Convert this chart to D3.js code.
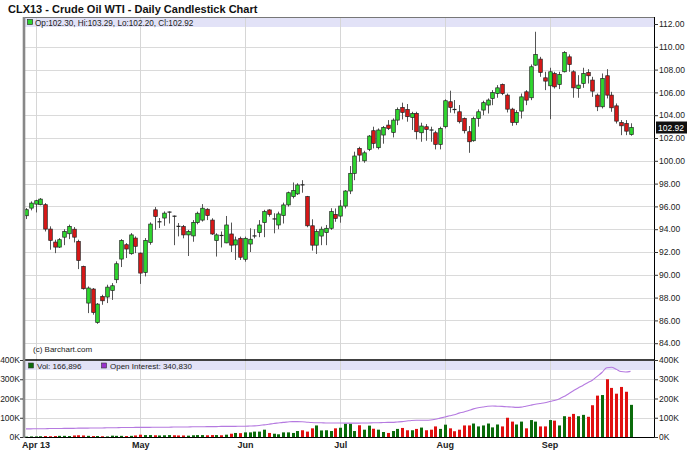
<!DOCTYPE html>
<html><head><meta charset="utf-8">
<script src="https://cdn.jsdelivr.net/npm/d3@7"></script>
<style>body{margin:0;background:#fff;} svg{display:block;font-family:"Liberation Sans",Arial,sans-serif;}</style>
</head><body><svg id="c" width="688" height="457"></svg>
<script>
// ---- DATA ----
const open = [95.18,95.85,96.2,96.15,96.15,94.01,92.87,92.43,93.3,93.6,
94.0,92.93,90.74,87.52,88.75,85.82,88.1,88.05,88.63,89.57,
91.38,92.64,91.85,93.22,91.9,90.2,92.84,95.7,94.6,94.98,
95.48,95.18,94.28,94.23,93.5,93.41,94.58,94.8,95.75,94.8,
93.0,93.48,92.8,93.58,92.62,93.2,91.36,92.7,93.38,93.7,
94.58,95.69,94.88,94.37,95.2,96.13,96.86,97.1,97.92,96.86,
94.3,92.6,93.4,93.7,94.08,95.3,95.15,96.03,97.35,98.9,
101.09,100.0,101.0,102.64,101.15,102.26,103.13,102.49,103.57,104.68,
104.51,103.8,104.16,102.46,102.99,102.72,102.46,101.44,102.99,105.18,
104.52,104.3,103.72,102.55,101.76,103.72,104.45,104.89,105.47,105.9,
106.7,105.76,104.53,103.36,104.36,106.05,105.53,108.39,108.92,107.28,
106.58,107.66,106.7,107.81,109.12,107.81,106.34,106.78,107.75,107.08,
105.76,104.74,107.46,105.76,104.82,103.36,103.27,102.3];
const high = [95.85,96.44,96.58,96.73,96.29,94.25,93.08,93.22,94.0,94.4,
94.19,93.08,90.8,88.98,88.84,87.52,88.25,89.13,89.27,91.18,
93.13,92.78,93.66,93.37,91.96,93.22,94.6,95.94,94.98,95.56,
95.56,95.2,94.54,94.37,93.94,94.8,95.54,96.2,95.84,94.96,
93.64,93.8,95.16,94.58,93.35,93.35,93.35,94.08,94.0,94.8,
95.7,95.75,95.4,95.54,96.33,97.3,98.1,98.03,98.3,96.92,
94.87,94.0,94.23,94.37,95.84,95.82,96.56,97.43,99.54,100.8,
101.23,100.88,102.26,102.99,102.84,103.05,103.57,103.72,104.68,105.1,
104.98,104.3,104.3,103.34,103.22,102.99,102.64,102.99,105.39,106.15,
105.33,104.89,103.8,103.05,103.87,104.51,105.27,105.47,106.2,106.64,
106.78,105.9,104.65,104.44,105.9,106.2,108.45,111.32,109.12,107.81,
108.16,107.81,107.81,109.62,109.33,107.95,107.51,108.16,108.04,107.37,
105.9,107.66,108.04,106.05,105.03,103.57,103.57,103.29];
const low = [94.89,95.65,95.47,96.1,93.8,92.2,91.9,92.35,92.6,93.13,
92.84,90.5,88.7,86.64,86.5,85.7,87.37,87.52,87.8,89.27,
90.68,91.47,91.76,91.9,89.2,89.86,92.64,93.95,94.1,94.3,
94.5,92.6,93.37,93.2,91.65,92.9,94.43,94.67,94.8,93.5,
91.6,92.4,92.77,92.0,91.3,91.3,91.15,92.0,93.2,93.3,
93.3,95.1,93.64,94.0,94.5,95.98,96.7,97.0,97.2,94.17,
92.12,91.83,92.6,92.6,93.94,94.65,94.57,95.82,97.08,98.3,
99.92,99.83,100.85,101.09,101.0,101.5,102.7,102.05,103.13,103.63,
103.43,102.7,101.88,101.67,101.76,101.67,101.0,101.0,102.84,104.22,
104.16,103.28,102.4,100.7,101.67,102.99,104.0,104.15,104.88,105.53,
105.76,104.24,103.07,103.13,103.71,104.88,105.32,108.33,107.37,106.2,
103.65,106.34,106.29,107.75,107.81,105.53,105.53,106.4,106.78,105.61,
104.36,104.59,105.47,104.3,103.27,102.25,102.25,102.2];
const close = [95.71,96.29,96.5,96.64,94.01,93.02,92.43,93.08,93.8,94.25,
93.3,91.26,88.78,88.84,86.7,87.43,87.72,88.92,89.04,90.97,
93.02,92.26,93.5,92.5,90.15,93.02,94.45,95.12,94.7,95.41,
95.52,95.1,94.22,93.5,93.79,94.6,95.4,95.84,95.2,93.58,
93.5,93.42,94.37,92.6,93.06,91.54,93.2,93.12,93.44,94.37,
95.54,95.3,94.92,95.34,96.13,97.2,97.4,97.88,97.86,94.3,
92.6,93.79,94.0,94.08,95.54,94.95,96.03,97.35,98.9,100.42,
100.5,100.7,102.17,101.53,102.7,102.93,102.84,103.57,104.51,104.25,
103.87,104.16,102.55,103.05,102.75,102.68,101.44,102.84,105.27,104.68,
104.48,103.43,102.64,101.67,103.72,104.3,105.1,105.33,105.99,106.4,
105.9,104.53,103.36,104.24,105.61,105.32,108.25,109.33,107.75,106.99,
107.81,106.49,107.57,109.5,108.45,106.4,106.64,107.66,107.46,106.11,
104.74,107.22,105.76,104.65,103.48,103.07,102.6,102.92];
// volume, thousands of contracts
const volume = [2,3,3,4,5,4,5,6,6,5,
8,9,8,6,5,5,4,3,7,6,
6,5,6,8,12,10,10,9,8,9,
10,9,8,8,7,9,10,10,9,10,
10,9,12,17,21,20,24,24,28,28,
38,21,17,14,24,24,21,31,35,28,
45,60,34,35,31,45,48,69,69,31,
61,38,59,43,38,26,21,31,42,47,
35,35,42,49,35,38,55,42,64,45,
30,38,60,60,70,55,60,70,50,65,
55,100,80,65,80,45,88,80,55,55,
88,85,60,108,105,120,108,115,105,165,
215,218,300,255,225,260,235,167];
// open interest, thousands of contracts
const openInterest = [42,42,43,43,43,44,44,44,45,45,
45,46,46,46,47,47,47,48,48,48,
49,49,49,50,50,50,50,51,51,51,
51,52,52,52,52,53,53,53,54,54,
54,55,55,55,55,56,56,57,58,60,
63,66,70,73,76,78,80,80,79,77,
75,74,74,73,73,73,73,72,72,72,
72,73,73,74,74,75,76,76,78,80,
83,86,87,87,87,88,92,98,104,110,
116,124,130,138,146,152,156,160,161,160,
159,157,156,154,155,160,165,170,174,178,
184,190,198,210,225,240,255,268,282,295,
315,335,360,362,352,340,338,341];
const monthLabels = ["Apr 13","May","Jun","Jul","Aug","Sep"];
const monthStart = [2,24,46,66,88,110];
const priceTicks = [84,86,88,90,92,94,96,98,100,102,104,106,108,110,112];
const volTicks = [0,100,200,300,400];
const titleText = "CLX13 - Crude Oil WTI - Daily Candlestick Chart";
const lastBar = {op:"102.30", hi:"103.29", lo:"102.20", cl:"102.92", vol:"166,896", oi:"340,830"};

// ---- LAYOUT ----
const svg = d3.select("#c");
const L = 24, R = 654, pTop = 17, pBot = 359, vTop = 360, vBot = 437;
const n = open.length;
const x = d3.scalePoint().domain(d3.range(n)).range([26, 630.5]);
const y = d3.scaleLinear().domain([84,112]).range([343.2, 24]);
const yv = d3.scaleLinear().domain([0,400]).range([vBot, vTop]);
const GREEN = "#2fd62f", RED = "#d81818", VGREEN = "#0b6b0b", VRED = "#e01010";

svg.append("rect").attr("width",688).attr("height",457).attr("fill","#fff");
// header strips
svg.append("rect").attr("x",L).attr("y",pTop).attr("width",R-L).attr("height",10).attr("fill","#e2e2f7");
svg.append("rect").attr("x",L).attr("y",vTop+1).attr("width",R-L).attr("height",9).attr("fill","#e2e2f7");

// grid
svg.append("g").selectAll("line").data(priceTicks.filter(d=>d<112)).join("line")
  .attr("x1",L).attr("x2",R).attr("y1",d=>Math.round(y(d))+0.5).attr("y2",d=>Math.round(y(d))+0.5)
  .attr("stroke","#dadada");
svg.append("g").selectAll("line").data([100,200,300]).join("line")
  .attr("x1",L).attr("x2",R).attr("y1",d=>Math.round(yv(d))+0.5).attr("y2",d=>Math.round(yv(d))+0.5)
  .attr("stroke","#dadada");
svg.append("g").selectAll("line").data(monthStart).join("line")
  .attr("x1",d=>Math.round(x(d))+0.5).attr("x2",d=>Math.round(x(d))+0.5).attr("y1",pTop).attr("y2",vBot)
  .attr("stroke","#d6d6d6");

// candles
const cg = svg.append("g");
d3.range(n).forEach(i=>{
  const cx = Math.round(x(i))+0.5;
  const up = close[i] >= open[i];
  cg.append("line").attr("x1",cx).attr("x2",cx).attr("y1",y(high[i])).attr("y2",y(low[i]))
    .attr("stroke","#555").attr("stroke-width",1);
  const top = y(Math.max(open[i],close[i])), bot = y(Math.min(open[i],close[i]));
  if (bot-top < 1.2) {
    cg.append("line").attr("x1",cx-2).attr("x2",cx+2).attr("y1",(top+bot)/2).attr("y2",(top+bot)/2)
      .attr("stroke","#222").attr("stroke-width",1.2);
  } else {
    cg.append("rect").attr("x",cx-1.8).attr("y",top).attr("width",3.6).attr("height",bot-top)
      .attr("fill",up?GREEN:RED).attr("stroke","#222").attr("stroke-width",0.7);
  }
});

// volume bars
svg.append("g").selectAll("rect").data(d3.range(n)).join("rect")
  .attr("x",i=>Math.round(x(i))-1).attr("width",3)
  .attr("y",i=>yv(volume[i])).attr("height",i=>vBot-yv(volume[i]))
  .attr("fill",i=>close[i]>=open[i]?VGREEN:VRED);

// open interest line
svg.append("path").datum(d3.range(n))
  .attr("d", d3.line().x(i=>x(i)).y(i=>yv(openInterest[i])).curve(d3.curveMonotoneX))
  .attr("fill","none").attr("stroke","#b57ae0").attr("stroke-width",1.1);

// borders
svg.append("line").attr("x1",L).attr("x2",R).attr("y1",pTop+0.5).attr("y2",pTop+0.5).attr("stroke","#777");
svg.append("line").attr("x1",L).attr("x2",R).attr("y1",vTop).attr("y2",vTop).attr("stroke","#000").attr("stroke-width",1.6);
svg.append("line").attr("x1",L).attr("x2",R).attr("y1",vBot+0.5).attr("y2",vBot+0.5).attr("stroke","#000");
svg.append("line").attr("x1",R+0.5).attr("x2",R+0.5).attr("y1",pTop).attr("y2",vBot+1).attr("stroke","#000");
svg.append("line").attr("x1",L).attr("x2",L).attr("y1",pTop).attr("y2",vBot+1).attr("stroke","#888").attr("stroke-width",2.6);

// axes
const fmt = d3.format(".2f");
const ap = svg.append("g").attr("transform",`translate(${R},0)`)
  .call(d3.axisRight(y).tickValues(priceTicks).tickFormat(fmt).tickSize(4).tickPadding(1));
const av = svg.append("g").attr("transform",`translate(${R},0)`)
  .call(d3.axisRight(yv).tickValues(volTicks).tickFormat(d=>d+"K").tickSize(4).tickPadding(1));
const al = svg.append("g").attr("transform",`translate(${L-1},0)`)
  .call(d3.axisLeft(yv).tickValues(volTicks).tickFormat(d=>d+"K").tickSize(3).tickPadding(0));
const ax = svg.append("g").attr("transform",`translate(0,${vBot})`)
  .call(d3.axisBottom(x).tickValues(monthStart).tickFormat((d,i)=>monthLabels[i]).tickSize(0).tickPadding(5));
[ap,av,al,ax].forEach(g=>{
  g.select(".domain").remove();
  g.selectAll("text").attr("font-family","Liberation Sans, Arial, sans-serif").attr("font-size",8.5).attr("fill","#222");
  g.selectAll("line").attr("stroke","#333");
});
ax.selectAll("text").attr("font-weight","bold").attr("font-size",9);

// last price marker
const lp = +lastBar.cl;
svg.append("rect").attr("x",656).attr("y",y(lp)-6).attr("width",31).attr("height",12).attr("fill","#111");
svg.append("text").attr("x",658).attr("y",y(lp)+3.5).attr("fill","#fff").attr("font-size",8.5).text(lastBar.cl);

// title and legends
svg.append("text").attr("x",8).attr("y",13).attr("font-weight","bold").attr("font-size",11).attr("fill","#111").text(titleText);
svg.append("rect").attr("x",27.5).attr("y",19.5).attr("width",5).attr("height",5).attr("fill",GREEN).attr("stroke","#333").attr("stroke-width",0.7);
svg.append("text").attr("x",35).attr("y",25.5).attr("font-size",8.2).attr("fill","#222")
  .text(`Op:${lastBar.op}, Hi:${lastBar.hi}, Lo:${lastBar.lo}, Cl:${lastBar.cl}`);
svg.append("text").attr("x",33).attr("y",352).attr("font-size",8).attr("fill","#222").text("(c) Barchart.com");
svg.append("rect").attr("x",28.5).attr("y",363).attr("width",5).attr("height",5).attr("fill",VGREEN).attr("stroke","#333").attr("stroke-width",0.6);
svg.append("text").attr("x",37).attr("y",368.5).attr("font-size",8).attr("fill","#222").text(`Vol: ${lastBar.vol}`);
svg.append("rect").attr("x",101.5).attr("y",363).attr("width",5).attr("height",5).attr("fill","#9933cc").attr("stroke","#333").attr("stroke-width",0.6);
svg.append("text").attr("x",110).attr("y",368.5).attr("font-size",8).attr("fill","#222").text(`Open Interest: ${lastBar.oi}`);
</script></body></html>
